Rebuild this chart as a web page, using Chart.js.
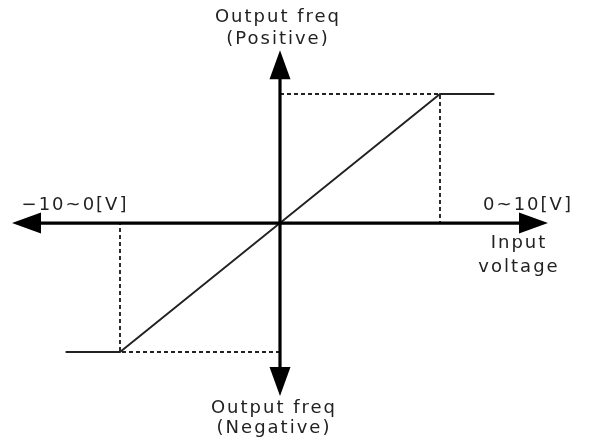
<!DOCTYPE html>
<html>
<head>
<meta charset="utf-8">
<script src="https://cdn.jsdelivr.net/npm/chart.js@4/dist/chart.umd.min.js"></script>
<style>
  html, body { margin: 0; padding: 0; background: #fff; }
  #wrap { width: 590px; height: 439px; }
</style>
</head>
<body>
<div id="wrap"><canvas id="c" width="590" height="439"></canvas></div>
<script>
// ---- data (input voltage in V, output frequency in % of max) ----
const inputVolts = [-13.4, -10, 0, 10, 13.4];
const outputFreq = [-100, -100, 0, 100, 100];
const posGuideX = [0, 10, 10];
const posGuideY = [100, 100, 0];
const negGuideX = [0, -10, -10];
const negGuideY = [-100, -100, 0];
// ---- text ----
const topLabel = ['Output freq', '(Positive)'];
const bottomLabel = ['Output freq', '(Negative)'];
const leftRangeLabel = ['\u221210~0[V]'];
const rightRangeLabel = ['0~10[V]'];
const xAxisLabel = ['Input', 'voltage'];

const toPts = (xs, ys) => xs.map((x, i) => ({ x: x, y: ys[i] }));

const axesPlugin = {
  id: 'axesArrows',
  afterDatasetsDraw(chart, args, opts) {
    const ctx = chart.ctx;
    const xs = chart.scales.x, ys = chart.scales.y;
    const x0 = xs.getPixelForValue(0), y0 = ys.getPixelForValue(0);
    const xL = xs.getPixelForValue(opts.xMin), xR = xs.getPixelForValue(opts.xMax);
    const yT = ys.getPixelForValue(opts.yMax), yB = ys.getPixelForValue(opts.yMin);
    const L = opts.arrowLen, W = opts.arrowHalf;
    ctx.save();
    ctx.strokeStyle = opts.color; ctx.fillStyle = opts.color;
    ctx.lineWidth = opts.lineWidth;
    ctx.beginPath();
    ctx.moveTo(xL + L - 2, y0); ctx.lineTo(xR - L + 2, y0);
    ctx.moveTo(x0, yT + L - 2); ctx.lineTo(x0, yB - L + 2);
    ctx.stroke();
    const tri = (a, b, c) => { ctx.beginPath(); ctx.moveTo(a[0], a[1]); ctx.lineTo(b[0], b[1]); ctx.lineTo(c[0], c[1]); ctx.closePath(); ctx.fill(); };
    tri([xL, y0], [xL + L, y0 - W], [xL + L, y0 + W]);
    tri([xR, y0], [xR - L, y0 - W], [xR - L, y0 + W]);
    tri([x0, yT], [x0 - W, yT + L], [x0 + W, yT + L]);
    tri([x0, yB], [x0 - W, yB - L], [x0 + W, yB - L]);

    // labels
    ctx.font = opts.font;
    ctx.letterSpacing = opts.letterSpacing;
    ctx.fillStyle = opts.textColor;
    ctx.textAlign = 'center';
    ctx.textBaseline = 'middle';
    const lines = (arr, cx, cy, lh) => arr.forEach((t, i) => ctx.fillText(t, cx, cy + i * lh));
    lines(topLabel, x0 - 2, yT - 33, 22);
    lines(bottomLabel, x0 - 6, yB + 12, 20);
    lines(leftRangeLabel, xL + 63, y0 - 18, 20);
    lines(rightRangeLabel, xR - 20, y0 - 18, 20);
    lines(xAxisLabel, xR - 29, y0 + 20, 24);
    ctx.restore();
  }
};

new Chart(document.getElementById('c'), {
  type: 'scatter',
  data: {
    datasets: [
      { label: 'Output', data: toPts(inputVolts, outputFreq), showLine: true,
        borderColor: '#222', borderWidth: 1.9, pointRadius: 0, tension: 0 },
      { label: 'Guide+', data: toPts(posGuideX, posGuideY), showLine: true,
        borderColor: '#222', borderWidth: 1.9, borderDash: [4, 3], pointRadius: 0 },
      { label: 'Guide-', data: toPts(negGuideX, negGuideY), showLine: true,
        borderColor: '#222', borderWidth: 1.9, borderDash: [4, 3], pointRadius: 0 }
    ]
  },
  options: {
    responsive: false,
    animation: false,
    events: [],
    layout: { padding: 0 },
    scales: {
      x: { type: 'linear', display: false, min: -17.5, max: 19.375 },
      y: { type: 'linear', display: false, min: -167.4, max: 172.9 }
    },
    plugins: {
      legend: { display: false },
      tooltip: { enabled: false },
      axesArrows: {
        xMin: -16.75, xMax: 16.75, yMin: -134, yMax: 134,
        arrowLen: 29, arrowHalf: 10.5, lineWidth: 3.2, color: '#000',
        font: '18px "DejaVu Sans"', letterSpacing: '2px', textColor: '#222'
      }
    }
  },
  plugins: [axesPlugin]
});
</script>
</body>
</html>
